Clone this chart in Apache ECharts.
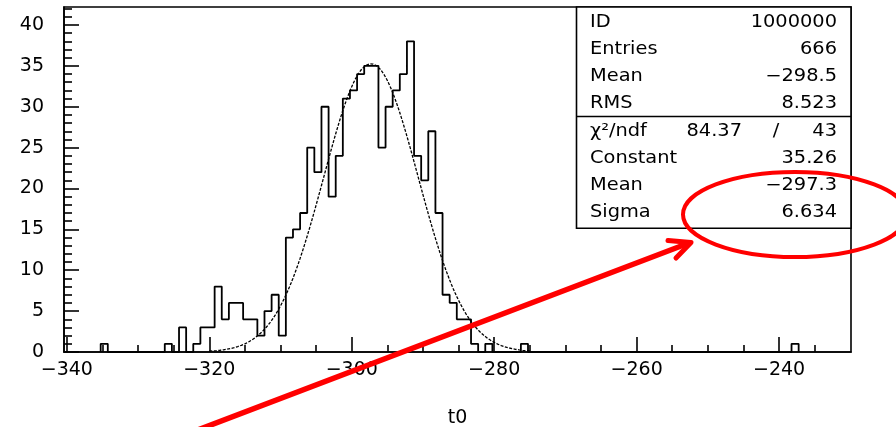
<!DOCTYPE html>
<html><head><meta charset="utf-8">
<script src="https://cdn.jsdelivr.net/npm/echarts@6/dist/echarts.min.js"></script>
<style>html,body{margin:0;padding:0;background:#fff}#c{width:896px;height:427px}</style>
</head><body><div id="c"></div><script>
// ---- data ----
const binStart = -335.25;   // left edge of first bin
const binWidth = 1;
const counts = [
  1, 0,0,0,0,0,0,0,0, 1, 0, 3, 0, 1, 3, 3, 8, 4, 6, 6, 4, 4, 2, 5, 7, 2,
  14, 15, 17, 25, 22, 30, 19, 24, 31, 32, 34, 35, 35, 25, 30, 32, 34, 38, 24, 21, 27,
  17, 7, 6, 4, 4, 1, 0, 1, 0,0,0,0, 1,
  0,0,0,0,0,0,0,0,0,0, 0,0,0,0,0,0,0,0,0,0, 0,0,0,0,0,0,0,0,0,0, 0,0,0,0,0,0,0,
  1
];
const fitConstant = 35.26, fitMean = -297.3, fitSigma = 6.634;
const fitRange = [-320, -275];
const xLabelValues = [-340, -320, -300, -280, -260, -240];
const xMinorTicks = [-335,-330,-325,-315,-310,-305,-295,-290,-285,-275,-270,-265,-255,-250,-245,-235];
const yLabelValues = [0, 5, 10, 15, 20, 25, 30, 35, 40];
const yMinorTicks = [1,2,3,4,6,7,8,9,11,12,13,14,16,17,18,19,21,22,23,24,26,27,28,29,31,32,33,34,36,37,38,39,41,42];
const statsTop = [['ID', '1000000'], ['Entries', '666'], ['Mean', '\u2212298.5'], ['RMS', '8.523']];
const chi2 = '84.37', ndf = '43';
const statsFit = [['Constant', '35.26'], ['Mean', '\u2212297.3'], ['Sigma', '6.634']];
const xName = 't0';

// ---- build series ----
const histPts = [[binStart, 0]];
counts.forEach((c, i) => {
  const L = binStart + i * binWidth;
  histPts.push([L, c], [L + binWidth, c]);
});
histPts.push([binStart + counts.length * binWidth, 0]);

const fitPts = [];
for (let x = fitRange[0]; x <= fitRange[1] + 1e-9; x += 0.25) {
  fitPts.push([x, fitConstant * Math.exp(-0.5 * Math.pow((x - fitMean) / fitSigma, 2))]);
}

const FONT = 'DejaVu Sans';
const INK = '#000';
const fmt = v => String(v).replace('-', '\u2212');
const chart = echarts.init(document.getElementById('c'), null, {renderer: 'canvas'});

const graphics = [];
// stats box
const bx0 = 576.5, bx1 = 851, by0 = 7, by1 = 228.3, bmid = 116.5;
graphics.push({type: 'rect', shape: {x: bx0, y: by0, width: bx1 - bx0, height: by1 - by0},
  style: {fill: '#fff', stroke: INK, lineWidth: 1.6}, z: 10});
graphics.push({type: 'line', shape: {x1: bx0, y1: bmid, x2: bx1, y2: bmid},
  style: {stroke: INK, lineWidth: 1.6}, z: 11});
const SX = 1.14, FS = 17;
function txt(s, x, y, align) {
  graphics.push({type: 'text', x: x, y: y, scaleX: SX, z: 12,
    style: {text: s, x: 0, y: 0, align: align, verticalAlign: 'middle',
      font: FS + 'px "' + FONT + '"', fill: INK}});
}
const rowsTop = [23, 50, 77, 104];
statsTop.forEach((r, i) => { txt(r[0], 590, rowsTop[i], 'left'); txt(r[1], 837, rowsTop[i], 'right'); });
txt('\u03c7\u00b2/ndf', 590, 132, 'left');
txt(chi2, 742, 132, 'right');
txt('/', 776, 132, 'center');
txt(ndf, 837, 132, 'right');
const rowsFit = [159, 186, 213];
statsFit.forEach((r, i) => { txt(r[0], 590, rowsFit[i], 'left'); txt(r[1], 837, rowsFit[i], 'right'); });

// red annotations
graphics.push({type: 'ellipse', shape: {cx: 795, cy: 214.5, rx: 112, ry: 42.5},
  style: {fill: 'none', stroke: '#ff0000', lineWidth: 4}, z: 20});
graphics.push({type: 'polyline', shape: {points: [[195, 431], [689, 243]]},
  style: {stroke: '#ff0000', lineWidth: 5.5, lineCap: 'round'}, z: 20});
graphics.push({type: 'polyline', shape: {points: [[668, 240.5], [691, 242.5], [676, 258]]},
  style: {stroke: '#ff0000', lineWidth: 5, lineCap: 'round', lineJoin: 'round', fill: 'none'}, z: 20});

const axisLabelStyle = {color: INK, fontFamily: FONT, fontSize: 19};
chart.setOption({
  animation: false,
  backgroundColor: '#fff',
  grid: {left: 64, right: 45, top: 7, bottom: 75, containLabel: false, outerBoundsMode: 'none',
         show: true, borderColor: INK, borderWidth: 1.6, backgroundColor: 'transparent'},
  xAxis: [
    {type: 'value', min: -340.4, max: -229.9, position: 'bottom',
     name: xName, nameLocation: 'middle', nameGap: 57,
     nameTextStyle: {color: INK, fontFamily: FONT, fontSize: 19},
     axisLine: {show: true, onZero: false, lineStyle: {color: INK, width: 1.6}},
     axisTick: {show: true, inside: true, length: 15, customValues: xLabelValues, lineStyle: {color: INK, width: 1.6}},
     axisLabel: {show: true, margin: 9, customValues: xLabelValues, formatter: fmt, ...axisLabelStyle},
     splitLine: {show: false}},
    {type: 'value', min: -340.4, max: -229.9, position: 'bottom', offset: 0,
     axisLine: {show: false},
     axisTick: {show: true, inside: true, length: 7, customValues: xMinorTicks, lineStyle: {color: INK, width: 1.6}},
     axisLabel: {show: false}, splitLine: {show: false}}
  ],
  yAxis: [
    {type: 'value', min: 0, max: 42.2, position: 'left',
     axisLine: {show: true, onZero: false, lineStyle: {color: INK, width: 1.6}},
     axisTick: {show: true, inside: true, length: 15, customValues: yLabelValues, lineStyle: {color: INK, width: 1.6}},
     axisLabel: {show: true, margin: 20, customValues: yLabelValues, formatter: fmt, ...axisLabelStyle},
     splitLine: {show: false}},
    {type: 'value', min: 0, max: 42.2, position: 'left', offset: 0,
     axisLine: {show: false},
     axisTick: {show: true, inside: true, length: 8, customValues: yMinorTicks, lineStyle: {color: INK, width: 1.6}},
     axisLabel: {show: false}, splitLine: {show: false}}
  ],
  series: [
    {type: 'line', name: 'fit', data: fitPts, xAxisIndex: 0, yAxisIndex: 0, symbol: 'none', smooth: false,
     lineStyle: {color: INK, width: 1.3, type: [3, 1.5]}, z: 2},
    {type: 'line', name: 'hist', data: histPts, xAxisIndex: 0, yAxisIndex: 0, symbol: 'none',
     lineStyle: {color: INK, width: 1.8}, z: 3}
  ],
  graphic: graphics
});
</script></body></html>
